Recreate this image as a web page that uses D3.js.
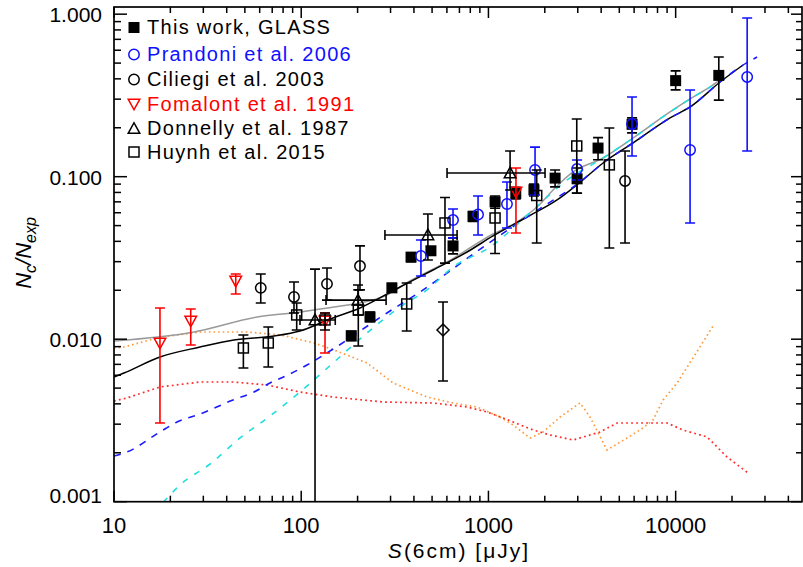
<!DOCTYPE html>
<html><head><meta charset="utf-8">
<script src="https://cdn.jsdelivr.net/npm/d3@7"></script>
<style>
body{margin:0;background:#fff}
svg{display:block}
text{font-family:"Liberation Sans",Arial,sans-serif}
</style>
</head><body>
<svg id="c" width="803" height="567"></svg>
<script>
// ---------- axis ticks ----------
const xMajor = [10, 100, 1000, 10000];
const xTickLabels = ["10", "100", "1000", "10000"];
const xMinor = [20,30,40,50,60,70,80,90,200,300,400,500,600,700,800,900,2000,3000,4000,5000,6000,7000,8000,9000,20000,30000,40000];
const yMajor = [0.001, 0.01, 0.1, 1];
const yTickLabels = ["0.001", "0.010", "0.100", "1.000"];
const yMinor = [0.002,0.003,0.004,0.005,0.006,0.007,0.008,0.009,0.02,0.03,0.04,0.05,0.06,0.07,0.08,0.09,0.2,0.3,0.4,0.5,0.6,0.7,0.8,0.9];

// ---------- legend ----------
const legendLabels = ["This work, GLASS", "Prandoni et al. 2006", "Ciliegi et al. 2003", "Fomalont et al. 1991", "Donnelly et al. 1987", "Huynh et al. 2015"];
const legendColors = ["#000", "#1010ff", "#000", "#ff0000", "#000", "#000"];
const legendShapes = ["fsquare", "circle", "circle", "tdown", "tup", "square"];

// ---------- data points: [S, N/Nexp, low, high] ----------
const glass = [
 [185,0.0105,0.0098,0.0112],[233,0.0137,0.0128,0.0147],[305,0.0207,0.0195,0.022],
 [386,0.032,0.030,0.034],[493,0.035,0.033,0.037],[647,0.0375,0.0335,0.042],
 [827,0.057,0.053,0.061],[1085,0.070,0.064,0.076],[1400,0.079,0.073,0.086],
 [1750,0.083,0.076,0.090],[2270,0.098,0.0865,0.110],[2975,0.097,0.079,0.113],
 [3850,0.150,0.127,0.174],[5850,0.21,0.186,0.23],[10000,0.39,0.342,0.448],
 [17000,0.42,0.296,0.545]];
const prandoni = [
 [436,0.0325,0.0245,0.0408],[647,0.0541,0.042,0.0633],[880,0.0585,0.0438,0.0761],
 [1256,0.0679,0.0483,0.0928],[1774,0.110,0.0772,0.152],[2975,0.1115,0.0954,0.1267],
 [5848,0.211,0.134,0.309],[11940,0.146,0.0519,0.3415],[24100,0.411,0.144,0.948]];
const ciliegi = [
 [60.8,0.0207,0.0167,0.0252],[91.5,0.0182,0.0145,0.0225],[137.3,0.0219,0.0174,0.0274],
 [206,0.0282,0.0201,0.0375],[5366,0.0941,0.0391,0.1439]];
const ciliegiDiamond = [[572,0.0114,0.00553,0.01694]];
const fomalont = [
 [17.6,0.00948,0.00305,0.01556],[25.7,0.01294,0.00921,0.01534],[44.7,0.0228,0.01897,0.0252],
 [134,0.01294,0.00822,0.0145],[1403,0.0805,0.045,0.1131]];
// [S, N/Nexp, Slow, Shigh, low, high]
const donnelly = [
 [118.5,0.01313,98.5,152,0.0001,0.027],[201,0.0174,135.7,284,0.0141,0.02156],
 [475,0.0438,280,680,0.0307,0.0589],[1305,0.1054,601,2006,0.0828,0.1439]];
const huynh = [
 [49.1,0.00883,0.00665,0.01061],[66.7,0.00948,0.00675,0.01189],[94.6,0.0141,0.0114,0.0167],
 [134,0.01313,0.0114,0.0145],[201.8,0.01512,0.00908,0.0201],[366,0.01647,0.01123,0.02217],
 [586,0.0519,0.0294,0.0745],[1085,0.0557,0.0337,0.0739],[1811,0.0766,0.0391,0.110],
 [2963,0.1545,0.0794,0.2265],[4423,0.1182,0.0364,0.1994]];

// ---------- model curves: [S, N/Nexp] ----------
const grayLine = [[10,0.00975],[26.8,0.01107],[58.1,0.01369],[99.8,0.0147],[149.7,0.01578],[206,0.0167],[280,0.01844],[381,0.0228],[601,0.02986],[1058,0.0444],[1422,0.0526],[1818,0.0651],[2269,0.0852],[2831,0.1069],[4096,0.1303],[5922,0.173],[9335,0.2501],[11940,0.3007],[15270,0.3565],[17270,0.3936]];
const blackLine = [[10,0.00585],[11.3,0.00619],[17.6,0.00777],[28.8,0.00895],[43.7,0.00989],[71.6,0.01046],[98.5,0.01123],[142.5,0.01331],[206,0.01556],[337,0.02096],[506,0.02666],[769,0.0344],[1058,0.0432],[1608,0.0565],[2326,0.0719],[3010,0.0902],[4096,0.1214],[5922,0.1612],[9335,0.2298],[11940,0.2685],[17270,0.3826],[22910,0.4867]];
const cyanLine = [[18.3,0.00099],[22.5,0.001267],[32.6,0.001706],[47.1,0.002466],[68.1,0.003367],[98.5,0.004733],[147.9,0.00714],[224.6,0.01092],[337,0.01578],[470,0.0201],[647,0.0278],[1020,0.0369],[1731,0.0624],[2503,0.0915],[4096,0.1303],[5922,0.173],[9335,0.2501],[11940,0.3007],[15650,0.3616]];
const blueLine = [[10,0.00191],[11.7,0.00202],[17.6,0.002685],[21.7,0.003094],[28.8,0.003465],[43.2,0.004224],[56,0.004733],[68.1,0.005376],[87.1,0.006107],[107.4,0.006939],[137.3,0.00823],[287,0.0145],[431,0.01952],[936,0.0369],[1731,0.0598],[3085,0.0928],[4096,0.1214],[5922,0.1612],[9335,0.2298],[11940,0.2685],[17270,0.3826],[22080,0.4733],[27220,0.545]];
const orangeLine = [[10,0.00883],[11.3,0.00895],[17.8,0.01032],[29.1,0.01107],[51.3,0.01107],[78,0.01061],[117.1,0.00948],[149.7,0.00858],[224.6,0.00714],[309.4,0.005376],[470,0.004408],[647,0.004049],[869,0.003826],[1153,0.00332],[1353,0.002965],[1668,0.002466],[1958,0.002685],[2413,0.00332],[3085,0.004049],[3488,0.00332],[4300,0.00208],[5500,0.002466],[6697,0.002842],[7573,0.003184],[8564,0.004224],[10170,0.005376],[13170,0.00858],[15840,0.01206]];
const redLine = [[10,0.004165],[11.7,0.004346],[17.6,0.00508],[28.8,0.005453],[43.2,0.005453],[65.7,0.005227],[98.5,0.004733],[147.9,0.004408],[273.5,0.004106],[506,0.004049],[769,0.003826],[983,0.003565],[1197,0.003274],[1731,0.002762],[2134,0.002573],[2831,0.002397],[3947,0.002685],[4864,0.00305],[7298,0.00305],[8995,0.00305],[10950,0.002762],[14720,0.002502],[18820,0.001884],[24370,0.001502]];

// ---------- drawing ----------
const svg = d3.select("#c");
const L = 114, R = 802, T = 7, B = 501.7;
const x = d3.scaleLog().domain([10, 47300]).range([L, R]);
const y = d3.scaleLog().domain([0.001, 1.107]).range([B, T]);

svg.append("defs").append("clipPath").attr("id","clip")
  .append("rect").attr("x",L).attr("y",T).attr("width",R-L).attr("height",B-T);

const plot = svg.append("g").attr("clip-path","url(#clip)");

// curves
const lineMono = d3.line().x(d=>x(d[0])).y(d=>y(d[1])).curve(d3.curveMonotoneX);
const lineLin = d3.line().x(d=>x(d[0])).y(d=>y(d[1]));
function curve(data, gen, color, dash, w){
  plot.append("path").datum(data).attr("d", gen).attr("fill","none")
    .attr("stroke",color).attr("stroke-width",w).attr("stroke-dasharray",dash);
}
curve(orangeLine, lineLin, "#ff9a3c", "1.6,3", 1.7);
curve(redLine, lineLin, "#ff2a2a", "1.8,3.2", 1.7);
curve(grayLine, lineMono, "#9a9a9a", null, 1.5);
curve(blackLine, lineMono, "#000", null, 1.5);
curve(blueLine, lineMono, "#1a1aff", "7,7", 1.6);
curve(cyanLine, lineMono, "#22dddd", "6,8", 1.6);

// marker helpers
function marker(g, shape, cx, cy, color){
  const s = 5.5;
  if (shape === "fsquare") {
    g.append("rect").attr("x",cx-s).attr("y",cy-s).attr("width",2*s).attr("height",2*s).attr("fill",color);
  } else if (shape === "square") {
    g.append("rect").attr("x",cx-s+0.5).attr("y",cy-s+0.5).attr("width",2*s-1).attr("height",2*s-1)
      .attr("fill","none").attr("stroke",color).attr("stroke-width",1.5);
  } else if (shape === "circle") {
    g.append("circle").attr("cx",cx).attr("cy",cy).attr("r",5.2)
      .attr("fill","none").attr("stroke",color).attr("stroke-width",1.5);
  } else if (shape === "tdown") {
    g.append("path").attr("d",`M${cx-5.8},${cy-4.8}L${cx+5.8},${cy-4.8}L${cx},${cy+5.8}Z`)
      .attr("fill","none").attr("stroke",color).attr("stroke-width",1.5);
  } else if (shape === "tup") {
    g.append("path").attr("d",`M${cx-5.8},${cy+4.8}L${cx+5.8},${cy+4.8}L${cx},${cy-5.8}Z`)
      .attr("fill","none").attr("stroke",color).attr("stroke-width",1.5);
  } else if (shape === "diamond") {
    g.append("path").attr("d",`M${cx},${cy-6}L${cx+6},${cy}L${cx},${cy+6}L${cx-6},${cy}Z`)
      .attr("fill","none").attr("stroke",color).attr("stroke-width",1.5);
  }
}
function vbar(g, sx, lo, hi, color){
  const px = x(sx), y1 = y(lo), y2 = y(hi);
  g.append("line").attr("x1",px).attr("x2",px).attr("y1",y1).attr("y2",y2).attr("stroke",color).attr("stroke-width",1.6);
  [y1,y2].forEach(v=>g.append("line").attr("x1",px-5).attr("x2",px+5).attr("y1",v).attr("y2",v).attr("stroke",color).attr("stroke-width",1.6));
}
function hbar(g, lo, hi, sy, color){
  const py = y(sy), x1 = x(lo), x2 = x(hi);
  g.append("line").attr("x1",x1).attr("x2",x2).attr("y1",py).attr("y2",py).attr("stroke",color).attr("stroke-width",1.6);
  [x1,x2].forEach(v=>g.append("line").attr("x1",v).attr("x2",v).attr("y1",py-5).attr("y2",py+5).attr("stroke",color).attr("stroke-width",1.6));
}
function series(data, shape, color){
  const g = plot.append("g");
  data.forEach(d=>{ vbar(g, d[0], d[2], d[3], color); marker(g, shape, x(d[0]), y(d[1]), color); });
}
series(glass, "fsquare", "#000");
series(prandoni, "circle", "#1010ff");
series(ciliegi, "circle", "#000");
series(ciliegiDiamond, "diamond", "#000");
series(fomalont, "tdown", "#ff0000");
{
  const g = plot.append("g");
  donnelly.forEach(d=>{ hbar(g, d[2], d[3], d[1], "#000"); vbar(g, d[0], d[4], d[5], "#000"); marker(g, "tup", x(d[0]), y(d[1]), "#000"); });
}
series(huynh, "square", "#000");

// axes
const ax = svg.append("g").attr("stroke","#000");
function ticksX(g, vals, len, top){
  g.selectAll(null).data(vals).enter().append("line")
    .attr("x1",d=>x(d)).attr("x2",d=>x(d))
    .attr("y1", top ? T : B).attr("y2", top ? T+len : B-len)
    .attr("stroke","#000").attr("stroke-width",1.5);
}
function ticksY(g, vals, len, right){
  g.selectAll(null).data(vals).enter().append("line")
    .attr("y1",d=>y(d)).attr("y2",d=>y(d))
    .attr("x1", right ? R : L).attr("x2", right ? R-len : L+len)
    .attr("stroke","#000").attr("stroke-width",1.5);
}
ticksX(ax, xMajor, 11, false); ticksX(ax, xMinor, 6, false);
ticksX(ax, xMajor, 11, true);  ticksX(ax, xMinor, 6, true);
ticksY(ax, yMajor, 13, false); ticksY(ax, yMinor, 7, false);
ticksY(ax, yMajor, 11, true);  ticksY(ax, yMinor, 6, true);
svg.append("rect").attr("x",L).attr("y",T).attr("width",R-L).attr("height",B-T)
  .attr("fill","none").attr("stroke","#000").attr("stroke-width",1.7);

// tick labels
svg.selectAll(null).data(xMajor).enter().append("text")
  .attr("x",d=>x(d)).attr("y",533).attr("text-anchor","middle")
  .attr("font-size",22).attr("fill","#000").text((d,i)=>xTickLabels[i]);
svg.selectAll(null).data(yMajor).enter().append("text")
  .attr("x",102).attr("y",(d,i)=> i===0 ? y(d)+1 : y(d)+8).attr("text-anchor","end")
  .attr("font-size",21).attr("fill","#000").text((d,i)=>yTickLabels[i]);

// axis titles
const xt = svg.append("text").attr("x",459).attr("y",558).attr("text-anchor","middle")
  .attr("font-size",21).attr("letter-spacing","2px").attr("fill","#000");
xt.append("tspan").attr("font-style","italic").text("S");
xt.append("tspan").text("(6cm) [μJy]");

const yt = svg.append("text").attr("transform","translate(31,253) rotate(-90)")
  .attr("text-anchor","middle").attr("font-size",22).attr("font-style","italic").attr("fill","#000");
yt.append("tspan").text("N");
yt.append("tspan").attr("font-size",16).attr("dy",5).text("c");
yt.append("tspan").attr("dy",-5).text("/N");
yt.append("tspan").attr("font-size",16).attr("dy",5).text("exp");

// legend
const rowsY = [34, 61, 86, 110.5, 135, 158.5];
const lg = svg.append("g");
legendLabels.forEach((lab,i)=>{
  marker(lg, legendShapes[i], 134, rowsY[i]-6.5, legendColors[i]);
  lg.append("text").attr("x",147).attr("y",rowsY[i]).attr("font-size",20)
    .attr("letter-spacing","1.3px").attr("fill",legendColors[i]).text(lab);
});
</script>
</body></html>
